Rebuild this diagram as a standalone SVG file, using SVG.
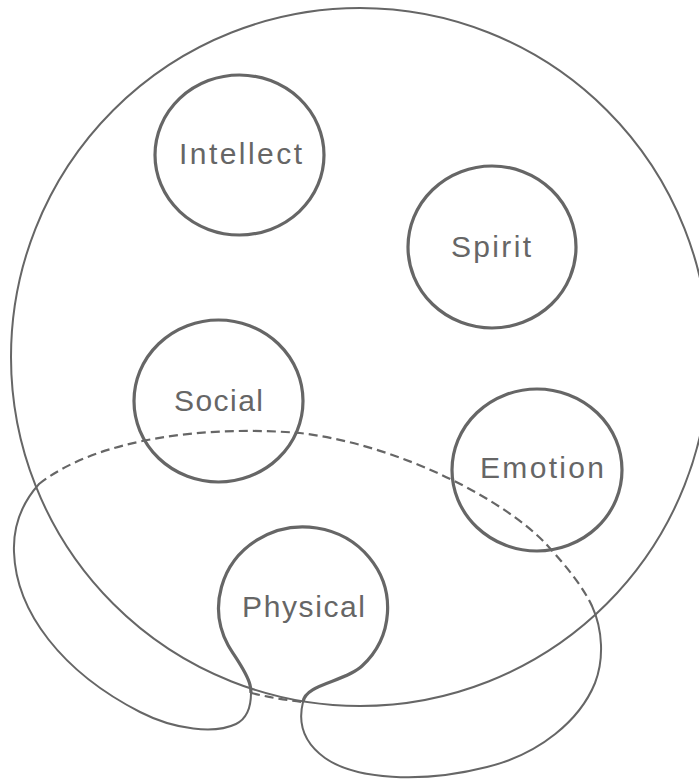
<svg xmlns="http://www.w3.org/2000/svg" width="699" height="781" viewBox="0 0 699 781">
<style>
.bg{fill:#ffffff}
.outer{fill:none;stroke:#666666;stroke-width:2}
.thin{fill:none;stroke:#666666;stroke-width:2;stroke-linecap:round;stroke-linejoin:round}
.dash{fill:none;stroke:#666666;stroke-width:2.2;stroke-dasharray:9 5}
.node{fill:none;stroke:#666666;stroke-width:3.2}
.lbl{font-family:"Liberation Sans",Arial,sans-serif;font-size:30px;fill:#666666}
</style>
<rect class="bg" x="0" y="0" width="699" height="781"/>
<g id="whole">
<circle class="outer" cx="360" cy="357" r="349"/>
</g>
<g id="connectors">
<path class="dash" d="M39,484 C95,440 200,425 300,433 C400,445 505,500 547,545 C565,565 582,585 592,606"/>
<path class="dash" d="M251,693 C268,697 285,700 302,702"/>
<path class="thin" d="M39,484 C22,503 13,527 14,552 C16,612 62,672 140,712 C175,730 215,734 236,724 C248,718 251,706 251,693"/>
<path class="thin" d="M303,702 C299,718 300,740 325,758 C355,779 420,784 487,767 C540,754 580,720 595,683 C604,660 603,630 592,606"/>
</g>
<g id="intellect">
<ellipse class="node" cx="239.5" cy="155" rx="84.5" ry="80"/>
<text class="lbl" x="179" y="164" textLength="123" lengthAdjust="spacing">Intellect</text>
</g>
<g id="spirit">
<ellipse class="node" cx="492" cy="247" rx="84" ry="81"/>
<text class="lbl" x="451" y="256.5" textLength="80" lengthAdjust="spacing">Spirit</text>
</g>
<g id="social">
<ellipse class="node" cx="218.5" cy="401" rx="84.5" ry="81"/>
<text class="lbl" x="174" y="411" textLength="89" lengthAdjust="spacing">Social</text>
</g>
<g id="emotion">
<ellipse class="node" cx="537" cy="470" rx="85" ry="81"/>
<text class="lbl" x="480" y="478" textLength="124" lengthAdjust="spacing">Emotion</text>
</g>
<g id="physical">
<path class="node" d="M251,693 C251,691 251,689 250,685 C247,672 234,656 228,645 A84.5,81 0 1 1 362,666 C345,682 305,684 303,702"/>
<text class="lbl" x="242" y="617" textLength="123" lengthAdjust="spacing">Physical</text>
</g>
</svg>
